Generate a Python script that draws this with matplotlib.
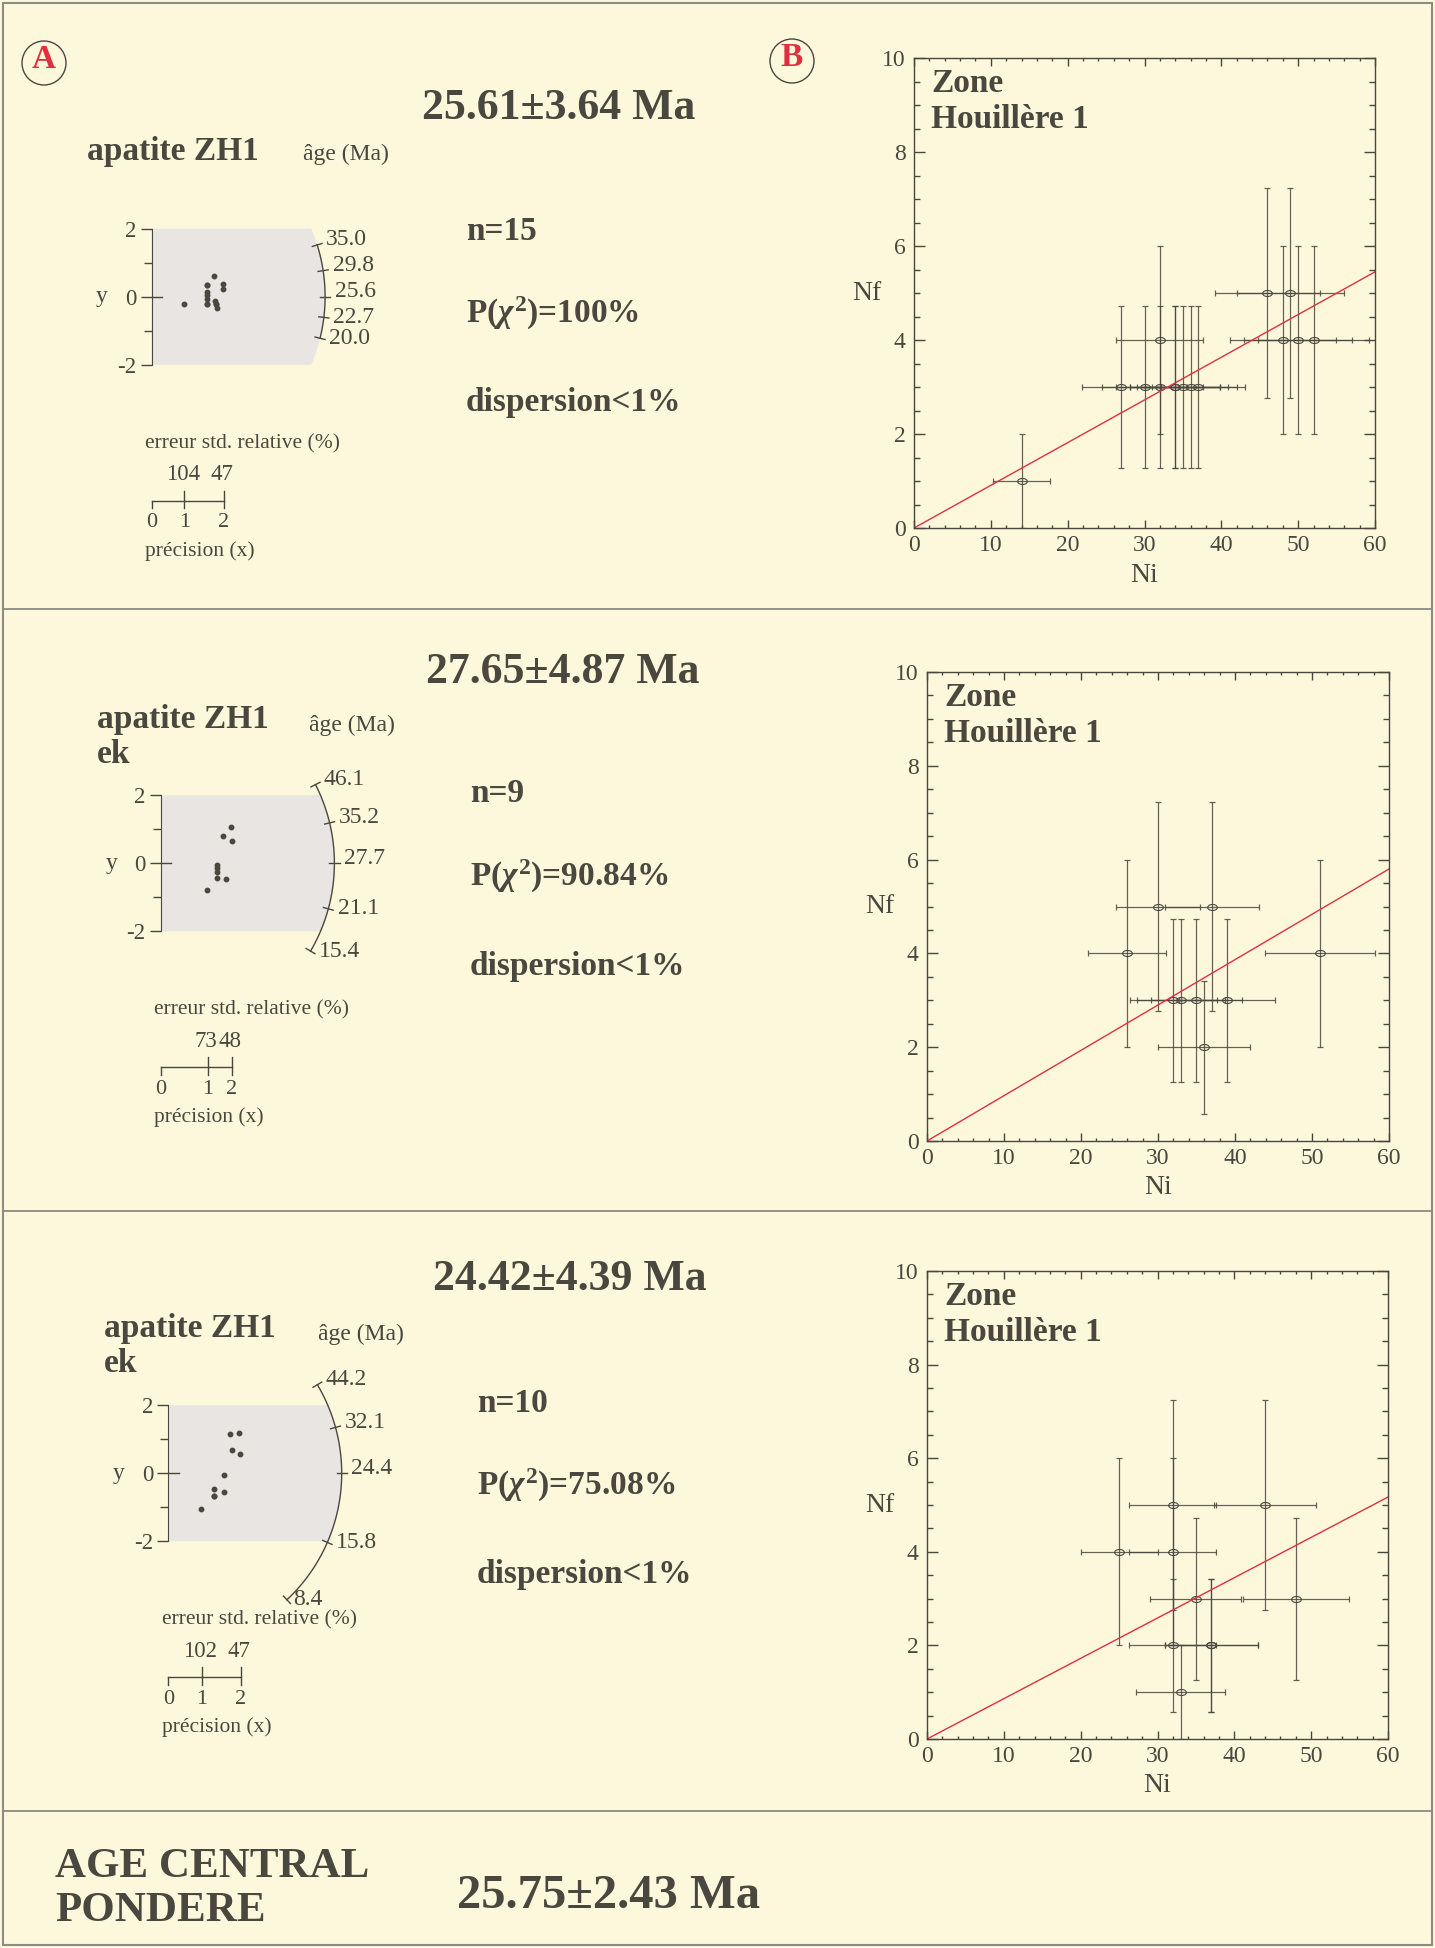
import numpy as np
import matplotlib
matplotlib.use('Agg')
import matplotlib.pyplot as plt
from matplotlib.patches import Polygon, Ellipse, Rectangle
from matplotlib.lines import Line2D
from matplotlib.path import Path
from matplotlib.transforms import Affine2D
from matplotlib.ticker import MultipleLocator

plt.rcParams['font.family'] = ['Liberation Serif', 'DejaVu Serif']
plt.rcParams['axes.unicode_minus'] = False
plt.rcParams['mathtext.fontset'] = 'custom'
plt.rcParams['mathtext.rm'] = 'Liberation Serif:bold'
plt.rcParams['mathtext.it'] = 'Liberation Serif:italic:bold'
plt.rcParams['mathtext.bf'] = 'Liberation Serif:bold'

W, H = 1435, 1948
BG = '#fdf8dc'
INK = '#4a473f'
RED = '#e0303f'
GREY = '#e8e5e2'
FRAME = '#8c8b84'

# ---- data ----
sample_names = ['apatite ZH1', 'apatite ZH1\nek', 'apatite ZH1\nek']
pooled_ages = ['25.61±3.64 Ma', '27.65±4.87 Ma', '24.42±4.39 Ma']
n_grains = [15, 9, 10]
p_chi2 = ['100%', '90.84%', '75.08%']
dispersion = ['<1%', '<1%', '<1%']
central_age = '25.75±2.43 Ma'

# radial plot points (x = precision, y = standardised estimate)
rad1_x = [0.95, 1.62, 1.62, 1.62, 1.62, 1.62, 1.62, 1.62, 1.84, 2.09, 2.11, 1.86, 1.89, 1.89, 1.91]
rad1_y = [-0.22, 0.34, 0.34, 0.15, 0.05, -0.08, -0.21, -0.21, 0.61, 0.37, 0.22, -0.13, -0.21, -0.21, -0.34]
rad2_x = [2.05, 1.83, 2.09, 1.64, 1.64, 1.64, 1.66, 1.90, 1.34]
rad2_y = [1.07, 0.81, 0.65, -0.05, -0.13, -0.25, -0.42, -0.46, -0.79]
rad3_x = [1.81, 2.07, 1.86, 2.10, 1.64, 1.33, 1.33, 1.33, 1.64, 0.95]
rad3_y = [1.15, 1.19, 0.68, 0.56, -0.05, -0.47, -0.66, -0.66, -0.56, -1.05]

# age scale on the arc (first = top, middle = central value, last = bottom)
arc1_ages = [35.0, 29.8, 25.6, 22.7, 20.0]
arc2_ages = [46.1, 35.2, 27.7, 21.1, 15.4]
arc3_ages = [44.2, 32.1, 24.4, 15.8, 8.4]

# relative standard error (%) marked on the precision scale
rel_err1 = [104, 47]
rel_err2 = [73, 48]
rel_err3 = [102, 47]

# track counts per grain
ni1 = [14, 27, 30, 32, 34, 34, 35, 36, 37, 32, 46, 49, 48, 50, 52]
nf1 = [1, 3, 3, 3, 3, 3, 3, 3, 3, 4, 5, 5, 4, 4, 4]
ni2 = [26, 30, 37, 32, 33, 35, 39, 36, 51]
nf2 = [4, 5, 5, 3, 3, 3, 3, 2, 4]
ni3 = [25, 32, 44, 32, 35, 48, 32, 37, 37, 33]
nf3 = [4, 5, 5, 4, 3, 3, 2, 2, 2, 1]
nf_at_60 = [5.45, 5.80, 5.17]

fig = plt.figure(figsize=(W / 100, H / 100), dpi=100, facecolor=BG)


def fx(x):
    return x / W


def fy(y):
    return 1 - y / H


U = 34.0   # pixels per radial unit
R = 5.1    # arc radius


def radial(ox, oy, xs, ys, arc_ages, rel_err):
    xl, xr, yb, yt = -2.5, 7.0, -8.0, 3.5
    ax = fig.add_axes([fx(ox + xl * U), fy(oy - yb * U), (xr - xl) * U / W, (yt - yb) * U / H])
    ax.set_xlim(xl, xr)
    ax.set_ylim(yb, yt)
    ax.patch.set_visible(False)
    for s in ['top', 'right', 'bottom']:
        ax.spines[s].set_visible(False)
    ax.spines['left'].set_position(('data', 0))
    ax.spines['left'].set_bounds(-2, 2)
    ax.spines['left'].set_color(INK)
    ax.set_xticks([])
    ax.set_yticks([-2, 0, 2])
    ax.set_yticklabels(['-2', '0', '2'])
    ax.set_yticks([-1, 1], minor=True)
    ax.tick_params(axis='y', which='major', length=8, width=1, pad=3, labelsize=16.5, colors=INK)
    ax.tick_params(axis='y', which='minor', length=5.8, width=1, colors=INK)
    ax.plot([0, 0.3], [0, 0], color=INK, lw=1)
    ax.text(-1.46, 0, 'y', ha='center', va='center', fontsize=17, color=INK)

    # grey wedge
    a = np.arcsin(2 / R)
    th = np.linspace(a, -a, 60)
    pts = [(0, 2)] + list(zip(R * np.cos(th), R * np.sin(th))) + [(0, -2)]
    ax.add_patch(Polygon(pts, closed=True, fc=GREY, ec='none', zorder=0))

    # age arc
    t0 = arc_ages[len(arc_ages) // 2]
    angs = np.arctan(np.log(np.array(arc_ages) / t0))
    th = np.linspace(angs[0], angs[-1], 100)
    ax.plot(R * np.cos(th), R * np.sin(th), color=INK, lw=1, clip_on=False)
    for t, g in zip(arc_ages, angs):
        c, s = np.cos(g), np.sin(g)
        ax.plot([(R - 0.15) * c, (R + 0.15) * c], [(R - 0.15) * s, (R + 0.15) * s],
                color=INK, lw=1, clip_on=False)
        dy = 0.15 if g >= 0 else 0.0
        ax.text((R + 0.28) * c, R * s + dy, f'{t:.1f}', ha='left', va='center',
                fontsize=17, color=INK, clip_on=False)

    ax.plot(xs, ys, 'o', ms=3.2, color=INK, ls='none')

    # precision scale
    px = [100 / e for e in rel_err]
    ax.plot([0, px[-1]], [-6, -6], color=INK, lw=1)
    ax.plot([0, 0], [-6, -6.22], color=INK, lw=1)
    for p, e, lab in zip(px, rel_err, ['1', '2']):
        ax.plot([p, p], [-5.7, -6.22], color=INK, lw=1)
        ax.text(p - 0.05, -5.23, str(e), ha='center', va='center', fontsize=16.5, color=INK)
        ax.text(p, -6.65, lab, ha='center', va='center', fontsize=16, color=INK)
    ax.text(0, -6.65, '0', ha='center', va='center', fontsize=16, color=INK)
    ax.text(-0.2, -4.32, 'erreur std. relative (%)', ha='left', va='center', fontsize=15.5, color=INK)
    ax.text(-0.2, -7.47, 'précision (x)', ha='left', va='center', fontsize=15.5, color=INK)
    return ax


ELL = Path.unit_circle().transformed(Affine2D().scale(1.0, 0.62))


def counts(box, ni, nf, y60):
    l, t, r, b = box
    ax = fig.add_axes([fx(l), fy(b), (r - l) / W, (b - t) / H])
    ax.patch.set_visible(False)
    ax.set_xlim(0, 60)
    ax.set_ylim(0, 10)
    ax.xaxis.set_major_locator(MultipleLocator(10))
    ax.xaxis.set_minor_locator(MultipleLocator(2))
    ax.yaxis.set_major_locator(MultipleLocator(2))
    ax.yaxis.set_minor_locator(MultipleLocator(0.5))
    ax.tick_params(which='both', direction='in', top=True, right=True, colors=INK,
                   labelsize=17, width=1)
    ax.tick_params(axis='y', which='major', length=8, pad=6)
    ax.tick_params(axis='y', which='minor', length=4.5)
    ax.tick_params(axis='x', which='major', length=6, pad=5)
    ax.tick_params(axis='x', which='minor', length=2.5)
    for s in ax.spines.values():
        s.set_color(INK)
        s.set_linewidth(1)
    ni = np.array(ni, float)
    nf = np.array(nf, float)
    ax.errorbar(ni, nf, xerr=np.sqrt(ni), yerr=np.sqrt(nf), fmt='none', ecolor=INK,
                elinewidth=0.9, capsize=2.2, capthick=0.9, alpha=0.85)
    ax.plot(ni, nf, ls='none', marker=ELL, ms=7, mfc='none', mec=INK, mew=0.8)
    xs = np.array(ax.get_xlim())
    ax.plot(xs, xs * y60 / 60, color=RED, lw=1)
    ax.set_xlabel('Ni', fontsize=20, color=INK, va='center')
    ax.xaxis.set_label_coords(0.5, -47 / (b - t))
    ax.set_ylabel('Nf', fontsize=20, color=INK, rotation=0, ha='center', va='center')
    ax.yaxis.set_label_coords(-47 / (r - l), 0.5)
    ax.text(17 / (r - l), 1 - 10 / (b - t), 'Zone\nHouillère 1', transform=ax.transAxes,
            ha='left', va='top', fontsize=24, fontweight='bold', color=INK, linespacing=1.2)
    return ax


def badge(cx, cy, letter):
    fig.add_artist(Ellipse((fx(cx), fy(cy)), 44 / W, 44 / H, transform=fig.transFigure,
                           fill=False, ec=INK, lw=1))
    fig.text(fx(cx), fy(cy + 5), letter, color=RED, fontsize=24, fontweight='bold',
             ha='center', va='baseline')


def texts(title_xy, name_xy, age_xy, stats_x, stats_y, i):
    fig.text(fx(title_xy[0]), fy(title_xy[1]), pooled_ages[i], ha='center', va='center',
             fontsize=31.5, fontweight='bold', color=INK)
    lines = sample_names[i].split('\n')
    for k, line in enumerate(lines):
        fig.text(fx(name_xy[0]), fy(name_xy[1] + 35 * k), line, ha='left', va='baseline',
                 fontsize=24, fontweight='bold', color=INK)
    fig.text(fx(age_xy[0]), fy(age_xy[1]), 'âge (Ma)', ha='left', va='baseline',
             fontsize=17, color=INK)
    rows = [f'n={n_grains[i]}', r'P($\chi^2$)=' + p_chi2[i], 'dispersion' + dispersion[i]]
    for row, y in zip(rows, stats_y):
        fig.text(fx(stats_x), fy(y), row, ha='left', va='center', fontsize=24,
                 fontweight='bold', color=INK)


# panel 1
badge(44, 63, 'A')
badge(792, 61, 'B')
texts((559, 108), (87, 160), (303, 160), 466, [232, 313, 403], 0)
radial(151.7, 296.7, rad1_x, rad1_y, arc1_ages, rel_err1)
counts((914, 58, 1375, 528), ni1, nf1, nf_at_60[0])

# panel 2
texts((563, 672), (97, 728), (309, 731), 470, [793, 876, 967], 1)
radial(161, 863.3, rad2_x, rad2_y, arc2_ages, rel_err2)
counts((927, 672, 1389, 1141), ni2, nf2, nf_at_60[1])

# panel 3
texts((570, 1279), (104, 1337), (318, 1340), 477, [1403, 1485, 1575], 2)
radial(168.3, 1473.3, rad3_x, rad3_y, arc3_ages, rel_err3)
counts((927, 1271, 1388, 1739), ni3, nf3, nf_at_60[2])

# bottom summary
fig.text(fx(55), fy(1867), 'AGE CENTRAL', ha='left', va='center', fontsize=31,
         fontweight='bold', color=INK)
fig.text(fx(55), fy(1911), 'PONDERE', ha='left', va='center', fontsize=31,
         fontweight='bold', color=INK)
fig.text(fx(457), fy(1896), central_age, ha='left', va='center', fontsize=35,
         fontweight='bold', color=INK)

# frame and separators
fig.add_artist(Rectangle((fx(3), fy(H - 3)), (W - 6) / W, (H - 6) / H,
                         transform=fig.transFigure, fill=False, ec=FRAME, lw=1.5))
for y in [609, 1211, 1811]:
    fig.add_artist(Line2D([fx(3), fx(W - 3)], [fy(y), fy(y)], transform=fig.transFigure,
                          color=FRAME, lw=1.3))

fig.savefig('out.png', dpi=100, facecolor=BG)
